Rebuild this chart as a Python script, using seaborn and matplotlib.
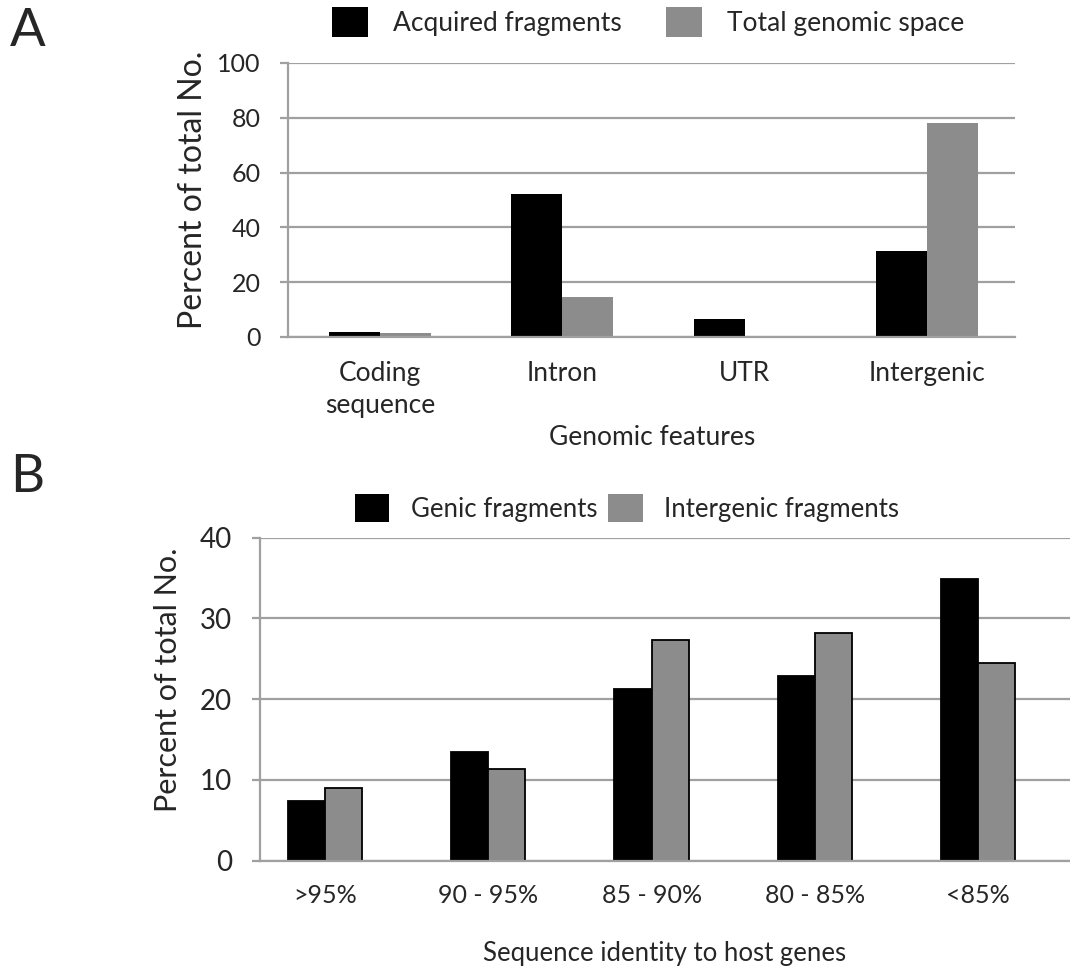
import matplotlib
matplotlib.use("Agg")
import matplotlib.pyplot as plt
from matplotlib.patches import Patch
import seaborn as sns
import pandas as pd

# Panel A: genomic location of acquired fragments vs. genome composition
features = ["Coding\nsequence", "Intron", "UTR", "Intergenic"]
acquired = [2.0, 52.2, 6.5, 31.5]
genomic_space = [1.3, 14.5, 0.5, 78.0]
series_a = ["Acquired fragments", "Total genomic space"]

# Panel B: sequence identity of fragments to host genes
identity_bins = [">95%", "90 - 95%", "85 - 90%", "80 - 85%", "<85%"]
genic = [7.4, 13.4, 21.2, 22.9, 34.9]
intergenic = [9.0, 11.3, 27.3, 28.2, 24.5]
series_b = ["Genic fragments", "Intergenic fragments"]

BLACK = "#000000"
GREY = "#8c8c8c"
GRID = "#a0a0a0"

sns.set_style("white")
plt.rcParams["font.family"] = ["Lato", "DejaVu Sans"]

df_a = pd.DataFrame({
    "feature": features * 2,
    "pct": acquired + genomic_space,
    "series": [series_a[0]] * len(features) + [series_a[1]] * len(features),
})
df_b = pd.DataFrame({
    "bin": identity_bins * 2,
    "pct": genic + intergenic,
    "series": [series_b[0]] * len(identity_bins) + [series_b[1]] * len(identity_bins),
})

fig = plt.figure(figsize=(10.7, 9.67), dpi=100)
ax_a = fig.add_axes([0.2696, 0.6515, 0.6790, 0.2834])
ax_b = fig.add_axes([0.2430, 0.1099, 0.7570, 0.3342])


def style_axes(ax, ytick_size, xtick_size):
    ax.set_axisbelow(True)
    ax.yaxis.grid(True, color=GRID, linewidth=1.6)
    ax.xaxis.grid(False)
    for side in ("top", "right"):
        ax.spines[side].set_visible(False)
    for side in ("left", "bottom"):
        ax.spines[side].set_color(GRID)
        ax.spines[side].set_linewidth(1.6)
    ax.tick_params(axis="y", direction="out", length=6, width=1.6, color=GRID,
                   pad=14, labelsize=ytick_size, left=True)
    ax.tick_params(axis="x", length=0, pad=17, labelsize=xtick_size)
    ax.set_xlabel("")
    ax.set_ylabel("")


# ---- Panel A ----
sns.barplot(data=df_a, x="feature", y="pct", hue="series",
            palette=[BLACK, GREY], width=0.56, errorbar=None,
            saturation=1, linewidth=0, legend=False, ax=ax_a)
ax_a.set_ylim(0, 100)
ax_a.set_yticks([0, 20, 40, 60, 80, 100])
ax_a.set_xlim(-0.5, 3.48)
style_axes(ax_a, 18, 19)
for lbl in ax_a.get_xticklabels():
    lbl.set_linespacing(1.35)
ax_a.set_xlabel("Genomic features", fontsize=19, labelpad=5)

# ---- Panel B ----
sns.barplot(data=df_b, x="bin", y="pct", hue="series",
            palette=[BLACK, GREY], width=0.455, errorbar=None,
            saturation=1, edgecolor=BLACK, linewidth=1.3, legend=False, ax=ax_b)
ax_b.set_ylim(0, 40)
ax_b.set_yticks([0, 10, 20, 30, 40])
ax_b.set_xlim(-0.398, 4.562)
style_axes(ax_b, 20, 18)
ax_b.set_xlabel("Sequence identity to host genes", fontsize=18.5, labelpad=24)

# ---- axis titles and panel letters ----
fig.text(193 / 1070, 1 - 190 / 967, "Percent of total No.", rotation=90,
         ha="center", va="center", fontsize=23)
fig.text(168 / 1070, 1 - 680 / 967, "Percent of total No.", rotation=90,
         ha="center", va="center", fontsize=22)
fig.text(10 / 1070, 1 - 31 / 967, "A", ha="left", va="center", fontsize=38)
fig.text(10 / 1070, 1 - 478 / 967, "B", ha="left", va="center", fontsize=38)

# ---- legends ----
fig.legend(handles=[Patch(facecolor=BLACK, edgecolor="none"),
                    Patch(facecolor=GREY, edgecolor="none")],
           labels=series_a, loc="center", bbox_to_anchor=(648 / 1070, 1 - 22 / 967),
           ncol=2, frameon=False, fontsize=19, handlelength=1.35, handleheight=1.35,
           handletextpad=0.95, columnspacing=1.7)
fig.legend(handles=[Patch(facecolor=BLACK, edgecolor="none"),
                    Patch(facecolor=GREY, edgecolor="none")],
           labels=series_b, loc="center", bbox_to_anchor=(627 / 1070, 1 - 508 / 967),
           ncol=2, frameon=False, fontsize=18.5, handlelength=1.35, handleheight=1.35,
           handletextpad=0.85, columnspacing=0.4)

fig.savefig("out.png", dpi=100)
